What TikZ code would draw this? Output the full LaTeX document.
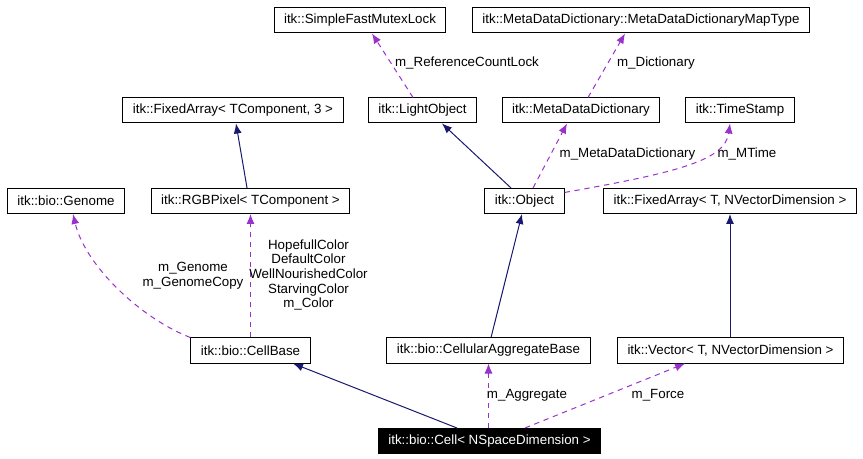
\documentclass[tikz,border=0pt]{standalone}
\usepackage{fontspec}
\setmainfont{Liberation Sans}
\usepackage{tikz}
\definecolor{kantenblau}{RGB}{25,25,112}
\definecolor{kantenlila}{RGB}{153,50,204}
\usetikzlibrary{arrows.meta}

\begin{document}
\begin{tikzpicture}[x=0.75pt, y=-0.75pt,
				klasse/.style={draw, line width=0.75pt, inner xsep=7.5pt, inner ysep=0pt, minimum height=18.75pt},
				erbt/.style={->, draw=kantenblau, line width=0.75pt},
				nutzt/.style={->, draw=kantenlila, line width=0.75pt, dash pattern=on 4pt off 3.5pt},
				marke/.style={inner sep=0pt, align=center},
				>={Latex[length=7.5pt,width=6pt]},   %Pfeilspitzen
				font=\fontsize{10}{11}\selectfont]
				%Bildbereich
				\useasboundingbox (0,0) rectangle (863,459);
				% Klassen
				\node[klasse] (mutex) at (360,20.5) {itk::SimpleFastMutexLock};
				\node[klasse] (maptype) at (641,20.5) {itk::MetaDataDictionary::MetaDataDictionaryMapType};
				\node[klasse] (fa3) at (233,110.5) {itk::FixedArray< TComponent, 3 >};
				\node[klasse] (light) at (422.5,110.5) {itk::LightObject};
				\node[klasse] (mdd) at (581,110.5) {itk::MetaDataDictionary};
				\node[klasse] (ts) at (740,110.5) {itk::TimeStamp};
				\node[klasse] (genome) at (66,201) {itk::bio::Genome};
				\node[klasse] (rgb) at (250.5,201) {itk::RGBPixel< TComponent >};
				\node[klasse] (obj) at (524.5,201) {itk::Object};
				\node[klasse] (fanv) at (730,201) {itk::FixedArray< T, NVectorDimension >};
				\node[klasse] (cellbase) at (250.5,350.5) {itk::bio::CellBase};
				\node[klasse] (cab) at (488.5,350.5) {itk::bio::CellularAggregateBase};
				\node[klasse] (vec) at (730.5,350.5) {itk::Vector< T, NVectorDimension >};
				\node[klasse, fill=black, text=white] (cell) at (489.5,441) {itk::bio::Cell< NSpaceDimension >};
				% Vererbung
				\draw[erbt] ([xshift=-10.1pt]obj.north) -- ([xshift=14.6pt]light.south);
				\draw[erbt] ([xshift=-2.6pt]rgb.north) -- ([xshift=2.25pt]fa3.south);
				\draw[erbt] ([xshift=1.9pt]cab.north) -- ([xshift=-1.9pt]obj.south);
				\draw[erbt] (fanv.south |- vec.north) -- (fanv.south);
				\draw[erbt] ([xshift=-24.4pt]cell.north) -- ([xshift=31.9pt]cellbase.south);
				% Benutzung
				\draw[nutzt] ([xshift=-7.1pt]light.north) -- ([xshift=9pt]mutex.south);
				\draw[nutzt] ([xshift=5.25pt]mdd.north) -- ([xshift=-12pt]maptype.south);
				\draw[nutzt] ([xshift=6.4pt]obj.north) -- ([xshift=-10.5pt]mdd.south);
				\draw[nutzt] (obj.12) .. controls (680,172) and (725,160) .. ([xshift=-7.5pt]ts.south);
				\draw[nutzt] (cellbase.north west) .. controls (140,318) and (85,265) .. ([xshift=5.25pt]genome.south);
				\draw[nutzt] (cellbase.north) -- (rgb.south);
				\draw[nutzt] (cab.south |- cell.north) -- (cab.south);
				\draw[nutzt] ([xshift=26.6pt]cell.north) -- ([xshift=-34.1pt]vec.south);
				% Beschriftung
				\node[marke] (lref) at (467,63) {m\_ReferenceCountLock};
				\node[marke] (ldict) at (656,63) {m\_Dictionary};
				\node[marke] (lmdd) at (627.5,154) {m\_MetaDataDictionary};
				\node[marke] (lmtime) at (747,154) {m\_MTime};
				\node[marke] (lgenome) at (193,275.5) {m\_Genome\\m\_GenomeCopy};
				\node[marke] (lcolor) at (308.5,275) {HopefullColor\\DefaultColor\\WellNourishedColor\\StarvingColor\\m\_Color};
				\node[marke] (laggr) at (527,395) {m\_Aggregate};
				\node[marke] (lforce) at (658,395) {m\_Force};
			\end{tikzpicture}
\end{document}
